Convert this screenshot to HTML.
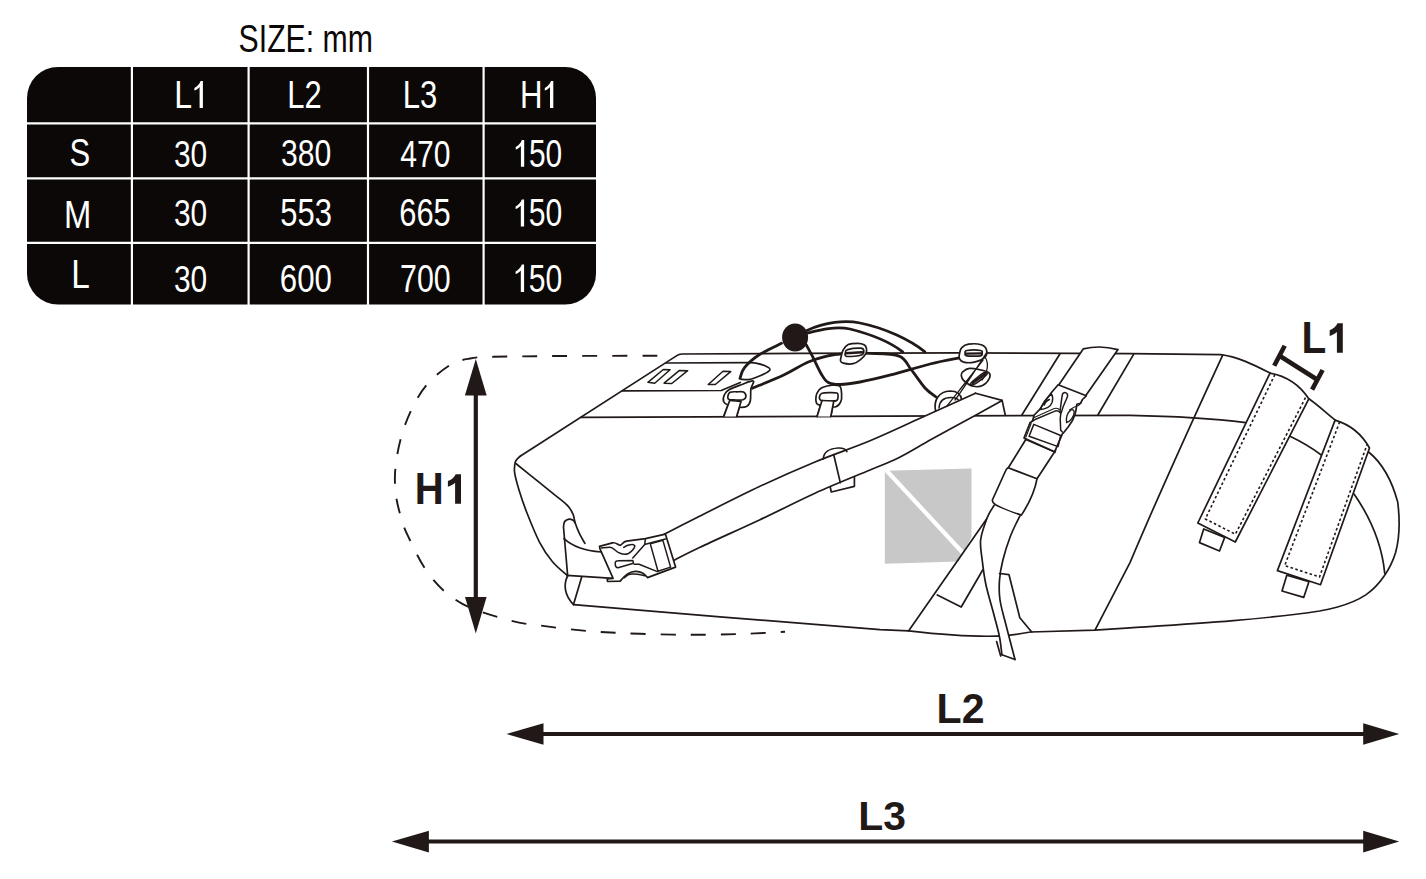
<!DOCTYPE html>
<html><head><meta charset="utf-8"><style>
html,body{margin:0;padding:0;background:#fff;width:1426px;height:879px;overflow:hidden}
svg{display:block}
text{font-family:"Liberation Sans",sans-serif}
</style></head><body>
<svg width="1426" height="879" viewBox="0 0 1426 879">
<rect x="27" y="67" width="569" height="237.5" rx="31" ry="31" fill="#0b0807"/>
<line x1="131.9" y1="66" x2="131.9" y2="305" stroke="#fff" stroke-width="2.2"/>
<line x1="248.6" y1="66" x2="248.6" y2="305" stroke="#fff" stroke-width="2.2"/>
<line x1="368.0" y1="66" x2="368.0" y2="305" stroke="#fff" stroke-width="2.2"/>
<line x1="483.6" y1="66" x2="483.6" y2="305" stroke="#fff" stroke-width="2.2"/>
<line x1="26" y1="123.3" x2="597" y2="123.3" stroke="#fff" stroke-width="2.2"/>
<line x1="26" y1="178.4" x2="597" y2="178.4" stroke="#fff" stroke-width="2.2"/>
<line x1="26" y1="242.8" x2="597" y2="242.8" stroke="#fff" stroke-width="2.2"/>
<text transform="matrix(0.8062 0 0 1.0189 238.59 51.75)" font-weight="normal" font-size="37.5" fill="#0b0807">SIZE: mm</text>
<text transform="matrix(0.8545 0 0 1.0524 174.24 108.0)" font-weight="normal" font-size="37.5" fill="#fff">L</text>
<text transform="matrix(0.8245 0 0 1.0133 287.33 107.9)" font-weight="normal" font-size="37.5" fill="#fff">L2</text>
<text transform="matrix(0.827 0 0 1.034 402.72 108.24)" font-weight="normal" font-size="37.5" fill="#fff">L3</text>
<text transform="matrix(0.8333 0 0 1.0524 520.0 108.0)" font-weight="normal" font-size="37.5" fill="#fff">H</text>
<text transform="matrix(0.8279 0 0 1.0151 69.55 166.45)" font-weight="normal" font-size="37.5" fill="#fff">S</text>
<text transform="matrix(0.7974 0 0 0.9962 173.9 166.65)" font-weight="normal" font-size="37.5" fill="#fff">30</text>
<text transform="matrix(0.8034 0 0 1.0038 281.09 166.45)" font-weight="normal" font-size="37.5" fill="#fff">380</text>
<text transform="matrix(0.8017 0 0 1.0 400.3 166.75)" font-weight="normal" font-size="37.5" fill="#fff">470</text>
<text transform="matrix(0.7974 0 0 1.0189 529.0 166.75)" font-weight="normal" font-size="37.5" fill="#fff">50</text>
<text transform="matrix(0.8752 0 0 1.0369 64.07 227.7)" font-weight="normal" font-size="37.5" fill="#fff">M</text>
<text transform="matrix(0.7974 0 0 1.0038 173.9 226.35)" font-weight="normal" font-size="37.5" fill="#fff">30</text>
<text transform="matrix(0.8252 0 0 1.0264 280.26 226.34)" font-weight="normal" font-size="37.5" fill="#fff">553</text>
<text transform="matrix(0.8237 0 0 1.0264 399.25 226.34)" font-weight="normal" font-size="37.5" fill="#fff">665</text>
<text transform="matrix(0.8026 0 0 1.0264 528.8 226.34)" font-weight="normal" font-size="37.5" fill="#fff">50</text>
<text transform="matrix(0.8909 0 0 1.068 71.13 287.5)" font-weight="normal" font-size="37.5" fill="#fff">L</text>
<text transform="matrix(0.7974 0 0 1.0038 173.9 291.65)" font-weight="normal" font-size="37.5" fill="#fff">30</text>
<text transform="matrix(0.8322 0 0 1.0453 279.84 291.84)" font-weight="normal" font-size="37.5" fill="#fff">600</text>
<text transform="matrix(0.8102 0 0 1.0453 400.08 291.84)" font-weight="normal" font-size="37.5" fill="#fff">700</text>
<text transform="matrix(0.8026 0 0 1.0453 528.8 291.84)" font-weight="normal" font-size="37.5" fill="#fff">50</text>
<text transform="matrix(0.944 0 0 1.0359 414.8 503.7)" font-weight="bold" font-size="42.5" fill="#201917">H</text>
<text transform="matrix(0.9667 0 0 0.9882 936.54 722.9)" font-weight="bold" font-size="42.5" fill="#201917">L2</text>
<text transform="matrix(0.9613 0 0 0.9653 858.26 829.92)" font-weight="bold" font-size="42.5" fill="#201917">L3</text>
<text transform="matrix(0.9545 0 0 1.0325 1301.38 352.8)" font-weight="bold" font-size="42.5" fill="#201917">L</text>
<path d="M202.9 80.9 L200.6 80.9 C199.6 83.9 197.1 86.4 194.4 88.0 L194.4 90.5 C196.6 89.7 198.6 88.4 199.6 86.9 L199.6 108 L202.9 108Z" fill="#fff"/>
<path d="M553.3 80.9 L551 80.9 C550 83.9 547.5 86.4 544.8 88.0 L544.8 90.5 C547 89.7 549 88.4 550 86.9 L550 108 L553.3 108Z" fill="#fff"/>
<path d="M524.1999999999999 140 L521.9 140 C520.9 143 518.4 145.5 515.6999999999999 147.1 L515.6999999999999 149.6 C517.9 148.8 519.9 147.5 520.9 146 L520.9 166.8 L524.1999999999999 166.8Z" fill="#fff"/>
<path d="M524.0999999999999 199.4 L521.8 199.4 C520.8 202.4 518.3 204.9 515.5999999999999 206.5 L515.5999999999999 209.0 C517.8 208.20000000000002 519.8 206.9 520.8 205.4 L520.8 226.6 L524.0999999999999 226.6Z" fill="#fff"/>
<path d="M524.0999999999999 264.4 L521.8 264.4 C520.8 267.4 518.3 269.9 515.5999999999999 271.5 L515.5999999999999 274.0 C517.8 273.2 519.8 271.9 520.8 270.4 L520.8 292.1 L524.0999999999999 292.1Z" fill="#fff"/>
<path d="M657.3 355.8 C641.1 355.8 587.2 355.8 560.0 356.0 C532.8 356.2 509.0 356.4 494.0 356.8 C479.0 357.2 477.3 357.1 470.0 358.5 C462.7 359.9 457.2 360.6 450.0 365.0 C442.8 369.4 433.4 377.2 427.0 384.6 C420.6 392.0 415.9 400.7 411.6 409.4 C407.3 418.1 404.0 427.3 401.3 436.7 C398.6 446.1 396.6 457.1 395.6 466.0 C394.6 474.9 394.8 482.3 395.4 490.0 C396.0 497.7 397.4 504.4 399.5 512.0 C401.6 519.6 402.6 524.9 407.8 535.6 C413.0 546.4 421.4 565.1 430.5 576.5 C439.6 587.9 449.0 596.4 462.4 603.8 C475.8 611.2 498.1 617.1 511.0 620.7 C523.9 624.3 530.2 624.1 540.0 625.5 C549.8 626.9 560.0 628.2 570.0 629.3 C580.0 630.4 588.3 631.1 600.0 631.9 C611.7 632.6 625.0 633.3 640.0 633.8 C655.0 634.3 673.3 634.8 690.0 634.8 C706.7 634.8 724.2 634.5 740.0 634.0 C755.8 633.5 777.5 632.2 785.0 631.8" fill="none" stroke="#201917" stroke-width="1.9" stroke-dasharray="15 15" stroke-dashoffset="0"/>
<line x1="475.8" y1="389" x2="475.8" y2="603.4" stroke="#201917" stroke-width="4.2"/>
<path d="M475.8 359 L486.7 395.4 L464.90000000000003 395.4Z" fill="#201917"/>
<path d="M475.8 633.4 L486.6 597.0 L465.0 597.0Z" fill="#201917"/>
<line x1="536.5" y1="734.0" x2="1369.2" y2="734.0" stroke="#201917" stroke-width="4.0"/>
<path d="M506.5 734.0 L543.5 723.2 L543.5 744.8Z" fill="#201917"/>
<path d="M1399.2 734.0 L1363.2 723.2 L1363.2 744.8Z" fill="#201917"/>
<line x1="421.9" y1="841.6" x2="1369.2" y2="841.6" stroke="#201917" stroke-width="4.0"/>
<path d="M391.9 841.6 L428.9 830.8000000000001 L428.9 852.4Z" fill="#201917"/>
<path d="M1399.2 841.6 L1363.2 830.8000000000001 L1363.2 852.4Z" fill="#201917"/>
<path d="M461.0 474.2 L455.70000000000005 474.2 C454.3 477.59999999999997 451.3 479.8 447.90000000000003 481.09999999999997 L447.90000000000003 486.8 C450.5 485.8 453.3 484.4 455.1 482.8 L455.1 503.7 L461.0 503.7Z" fill="#201917"/>
<path d="M1342.8000000000002 323.3 L1337.5 323.3 C1336.1000000000001 326.7 1333.1000000000001 328.90000000000003 1329.7 330.2 L1329.7 335.90000000000003 C1332.3000000000002 334.90000000000003 1335.1000000000001 333.5 1336.9 331.90000000000003 L1336.9 352.8 L1342.8000000000002 352.8Z" fill="#201917"/>
<g stroke="#201917" stroke-width="4.6" fill="none"><line x1="1279.5" y1="355.8" x2="1317.4" y2="379.8"/><line x1="1284.7" y1="345.8" x2="1274.2" y2="365.8"/><line x1="1322.6" y1="370" x2="1312.1" y2="389.6"/></g>
<g stroke="#201917" stroke-width="1.7" stroke-linejoin="round" stroke-linecap="round">
<path d="M884.8 470.8 L971.5 468.4 L971.5 537 L958.5 561.5 L884.8 563.8Z" fill="#c8c8c8" stroke="none"/>
<line x1="886" y1="470" x2="963" y2="553" stroke="#fff" stroke-width="4.2" stroke-linecap="butt"/>
<path d="M520.5 456 L677.2 355.4 Q678.5 354.3 682 354 L800 353.4 L960 352.8 L1130 353.6 L1220.5 354.6 C1238 356.5 1256 366 1270 373.1" fill="none"/>
<path d="M520.5 456 Q514.8 460 514.7 465  C514.7 466.4 514.0 469.0 514.7 473.2 C515.4 477.4 517.0 483.5 519.0 490.0 C521.0 496.5 523.2 503.3 526.6 512.0 C530.0 520.7 535.3 534.0 539.6 542.3 C543.9 550.6 547.8 556.1 552.5 561.7 C557.2 567.3 565.1 573.4 567.6 575.8" fill="none"/>
<path d="M515.8 463.5 C519.4 466.4 530.9 475.6 537.4 480.8 C543.9 486.0 549.7 490.7 554.7 494.8 C559.7 498.9 564.6 502.4 567.6 505.6 C570.6 508.8 571.7 511.3 573.0 514.2 C574.3 517.1 574.1 519.6 575.2 522.9 C576.3 526.1 577.9 530.3 579.5 533.7 C581.1 537.1 584.0 541.8 584.9 543.4" fill="none"/>
<path d="M1308.8 398.8 C1318 405 1326 413 1335.1 420.1" fill="none"/>
<path d="M1368.6 452 C1376 458 1389 470 1397.7 502 C1400 520 1399 540 1395.6 552.5 C1391 568 1380 585 1366.2 594.6 C1355 602 1345 605 1336.7 607.2 C1330 609 1325 610 1319.5 611 C1260 620 1190 624 1130 627.9 L1095 630.1 L1030.5 632 C1020 634 1008 636 997 636.1 C975 636.8 935 633.8 908.7 630.8 L880 629.7 L720 616.8 L573.5 604.6" fill="none"/>
<path d="M1354.2 494.2 C1372 520 1382 545 1384.7 573.2" fill="none"/>
<path d="M665.8 363 L749 362.6" fill="none"/>
<path d="M622.2 390.8 L721.2 390.5 L740.3 382.5" fill="none"/>
<path d="M581 417.3 L1130 415.3 C1170 416 1210 418 1245.8 422.6" fill="none"/>
<path d="M1290 436.3 C1302 442 1312 448 1321.6 455.3" fill="none"/>
<path d="M1060 353.8 L1022 414.8 M1133.9 353.9 L1098 414.8" fill="none"/>
<path d="M1222.6 355.3 C1195 415 1165 480 1130 562.6 L1095 630.1" fill="none"/>
<path d="M647.9 382.3 L663.3 369.5 L670.1 369.8 L654.7 383.2Z" fill="none" stroke-width="1.5"/>
<path d="M664.1 383.2 L679.5 370.4 L687.7 370.7 L671.8 383.5Z" fill="none" stroke-width="1.5"/>
<path d="M708.2 384.5 L723.0 371.2 L730.7 371.6 L715.3 384.5Z" fill="none" stroke-width="1.5"/>
<path d="M748.8 362.6 C750.2 362.7 754.3 362.8 757.0 363.3 C759.7 363.8 762.8 364.8 765.0 365.8 C767.2 366.8 770.0 368.1 770.0 369.4 C770.0 370.7 767.2 372.2 765.0 373.5 C762.8 374.8 759.7 376.0 757.0 377.0 C754.3 378.0 751.4 379.2 748.8 379.6 C746.2 380.0 742.5 379.4 741.3 379.3" fill="none"/>
<path d="M729.7 400.5 L723.8 416.4 L736.6 416.4 L741.0 401.5Z" fill="#fff"/><path d="M723.6 401.5 C723.0 399.8 723.6 396.4 724.5 394.5 C725.4 392.6 726.2 391.4 729.0 389.8 C731.8 388.2 737.0 386.3 741.0 384.8 C745.0 383.3 751.6 380.3 753.2 381.0 C754.9 381.7 751.4 385.6 750.9 388.9 C750.4 392.2 751.0 398.1 750.3 401.0 C749.6 403.9 748.4 405.5 746.5 406.5 C744.6 407.5 742.1 407.4 739.0 407.2 C735.9 406.9 730.6 405.9 728.0 405.0 C725.4 404.1 724.2 403.2 723.6 401.5Z" fill="#fff"/><path d="M727.8 396.5 C728.0 395.3 728.5 393.1 730.0 392.3 C731.5 391.5 734.8 391.8 737.0 391.8 C739.2 391.8 742.0 391.3 743.5 392.1 C745.0 392.9 746.0 395.2 745.9 396.5 C745.8 397.8 744.6 399.2 743.0 399.8 C741.4 400.4 738.3 400.1 736.0 400.0 C733.7 399.9 730.4 400.1 729.0 399.5 C727.6 398.9 727.6 397.7 727.8 396.5Z" fill="#fff"/><path d="M729.7 400.5 L723.8 416.4 L736.6 416.4 L741.0 401.5Z" fill="#fff" stroke="none"/><path d="M729.7 400.5 L723.8 416.4 M741 401.5 L736.6 416.4" fill="none"/><path d="M729.7 400.5 L741 401.5" fill="none" stroke-width="1.4"/>
<path d="M822.0 400.5 L817.1 416.4 L830.8 416.4 L833.8 401.0Z" fill="#fff"/><path d="M817.1 403.9 C815.5 402.2 815.8 398.3 816.1 396.0 C816.4 393.7 817.9 391.5 819.0 390.0 C820.1 388.5 821.0 388.0 823.0 387.2 C825.0 386.4 828.0 385.5 830.8 385.3 C833.6 385.1 837.9 384.7 839.7 386.2 C841.5 387.7 841.4 391.5 841.6 394.1 C841.8 396.7 841.7 399.8 840.7 401.9 C839.7 404.0 838.2 406.1 835.8 406.8 C833.3 407.5 829.1 406.5 826.0 406.0 C822.9 405.5 818.8 405.6 817.1 403.9Z" fill="#fff"/><path d="M819.5 396.5 C819.7 395.3 820.4 393.8 822.0 393.2 C823.6 392.6 826.5 392.6 829.0 392.6 C831.5 392.6 835.5 392.4 837.0 393.1 C838.5 393.8 838.1 395.8 838.0 397.0 C837.9 398.2 838.2 399.9 836.5 400.6 C834.8 401.3 830.6 401.0 828.0 401.0 C825.4 401.0 822.4 401.2 821.0 400.5 C819.6 399.8 819.3 397.7 819.5 396.5Z" fill="#fff"/><path d="M822.0 400.5 L817.1 416.4 L830.8 416.4 L833.8 401.0Z" fill="#fff" stroke="none"/><path d="M822 400.5 L817.1 416.4 M833.8 401 L830.8 416.4" fill="none"/><path d="M822 400.5 L833.8 401" fill="none" stroke-width="1.4"/>
<path d="M935.5 410.5 C933.5 400 939 391.5 950 391 C957 391 961 394 961.8 400" fill="none"/>
<path d="M939 408 C939.5 401 944 397.5 951 397.5 C955 397.5 958 398.5 959 401" fill="none" stroke-width="1.5"/>
<path d="M830 486 L831.3 492 L854.4 486.3 L854.4 476" fill="#fff"/>
<path d="M664.3 534.3 L700.0 516.0 L760.0 486.3 L815.0 462.0 L870.0 440.8 L921.2 417.8 L975.5 393.2 L1002.1 400.4 L1002.1 400.4 L976.5 414.7 L931.5 439.3 L898.7 457.7 L870.0 470.0 L815.0 493.2 L760.0 519.7 L700.0 547.3 L674.0 560.3Z" fill="#fff" stroke="none"/>
<path d="M664.3 534.3 C670.2 531.2 684.0 524.0 700.0 516.0 C716.0 508.0 740.8 495.3 760.0 486.3 C779.2 477.3 796.7 469.6 815.0 462.0 C833.3 454.4 852.3 448.2 870.0 440.8 C887.7 433.4 903.6 425.7 921.2 417.8 C938.8 409.9 966.5 397.3 975.5 393.2" fill="none"/>
<path d="M674.0 560.3 C678.3 558.1 685.7 554.1 700.0 547.3 C714.3 540.5 740.8 528.7 760.0 519.7 C779.2 510.7 796.7 501.5 815.0 493.2 C833.3 484.9 856.0 475.9 870.0 470.0 C884.0 464.1 888.5 462.8 898.7 457.7 C909.0 452.6 918.5 446.5 931.5 439.3 C944.5 432.1 964.7 421.2 976.5 414.7 C988.3 408.2 997.8 402.8 1002.1 400.4" fill="none"/>
<path d="M975.5 393.2 L1002.1 400.4 L1005.2 414.7" fill="none"/>
<path d="M823.4 458.8 C823.5 452 830 448.5 838 448 C843 447.8 846 449.5 846.9 451.5" fill="none"/>
<path d="M833.8 455 L840.3 482.6" fill="none"/>
<path d="M807 330.5 C825 322 845 320 860 323 C885 328 910 340 924.9 351.8" fill="none" stroke-width="2.8"/>
<path d="M807.9 333 C820 330 835 326 850 329 C870 334 890 342 902.7 351.8" fill="none" stroke-width="2.8"/>
<path d="M781.5 343.3 C777.8 345.2 765.4 350.8 759.2 354.8 C753.0 358.9 747.7 363.7 744.5 367.6 C741.3 371.5 740.8 376.6 740.0 378.4" fill="none" stroke-width="2.8"/>
<path d="M806.3 345.0 C807.4 347.1 810.8 353.1 813.2 357.8 C815.7 362.6 818.5 369.4 821.0 373.5 C823.5 377.6 824.7 380.5 827.9 382.3 C831.1 384.1 834.6 384.6 840.0 384.5 C845.4 384.4 851.5 383.6 860.0 382.0 C868.5 380.4 879.0 377.9 890.7 374.9 C902.4 371.9 918.5 366.9 930.0 364.0 C941.5 361.1 955.0 358.8 960.0 357.8" fill="none" stroke-width="2.8"/>
<path d="M752.4 388.2 C757.6 386.0 774.4 379.4 783.7 375.0 C793.0 370.6 800.9 365.2 808.3 362.0 C815.7 358.8 822.2 357.2 827.9 355.8 C833.6 354.4 835.6 354.2 842.6 353.8 C849.6 353.4 860.6 352.9 870.0 353.3 C879.4 353.7 892.3 353.4 899.2 356.1 C906.1 358.8 906.9 364.4 911.2 369.7 C915.5 375.0 920.9 383.4 925.0 388.0 C929.1 392.6 934.2 395.5 936.0 397.0" fill="none" stroke-width="2.8"/>
<ellipse cx="795.1" cy="337.5" rx="13" ry="14" fill="#201917" stroke="none"/>
<path d="M843.2 350.0 C844.3 348.2 845.8 345.7 848.2 344.6 C850.6 343.5 855.1 343.4 857.7 343.4 C860.4 343.4 862.7 344.0 864.1 344.8 C865.5 345.6 866.1 346.7 866.4 348.2 C866.7 349.7 866.9 351.8 865.9 353.7 C864.9 355.6 862.6 357.9 860.5 359.6 C858.4 361.3 856.1 363.1 853.2 363.7 C850.3 364.3 845.3 363.7 843.2 363.2 C841.1 362.7 840.8 362.2 840.5 360.9 C840.2 359.6 840.9 357.3 841.4 355.5 C841.9 353.7 842.1 351.8 843.2 350.0Z" fill="#fff"/>
<path d="M845.5 352.3 C845.6 351.2 845.2 350.3 847.7 349.6 C850.2 348.9 857.8 348.1 860.5 348.2 C863.2 348.3 863.6 349.4 863.7 350.5 C863.9 351.6 864.2 354.0 861.4 355.0 C858.6 356.0 849.4 356.8 846.8 356.4 C844.1 355.9 845.4 353.4 845.5 352.3Z" fill="#fff"/>
<path d="M846 353.2 L862 352.2" fill="none" stroke-width="2.6"/>
<path d="M961.8 347.6 C963.2 346.2 965.3 344.7 968.5 344.2 C971.7 343.7 978.1 343.8 981.1 344.7 C984.1 345.6 985.8 347.4 986.4 349.5 C987.0 351.6 987.0 355.1 985.0 357.2 C983.0 359.3 977.8 361.3 974.3 362.1 C970.8 362.9 966.2 362.8 963.7 362.1 C961.2 361.5 959.9 359.8 959.3 358.2 C958.6 356.6 959.4 354.2 959.8 352.4 C960.2 350.6 960.3 349.0 961.8 347.6Z" fill="#fff"/>
<path d="M965.1 353.0 C965.1 352.1 964.4 350.9 967.0 350.5 C969.6 350.1 978.0 350.1 980.5 350.5 C983.0 350.9 982.1 352.1 982.1 353.0 C982.1 353.9 983.0 355.3 980.5 355.8 C978.0 356.3 969.6 356.3 967.0 355.8 C964.4 355.3 965.1 353.9 965.1 353.0Z" fill="#fff"/>
<path d="M966.5 353.6 L981 353.4" fill="none" stroke-width="2.4"/>
<path d="M962.7 371.8 C964.1 370.6 966.6 368.7 969.5 368.4 C972.4 368.1 976.9 369.1 980.1 369.8 C983.3 370.5 987.3 371.2 988.8 372.7 C990.3 374.1 990.3 376.4 989.3 378.5 C988.3 380.6 985.6 384.0 983.0 385.3 C980.4 386.6 976.6 387.1 973.4 386.3 C970.2 385.5 965.7 382.3 963.7 380.5 C961.7 378.7 961.5 377.1 961.3 375.6 C961.1 374.2 961.3 373.0 962.7 371.8Z" fill="#fff"/>
<path d="M971.0 383.0 C972.5 381.1 980.9 374.4 983.5 373.0 C986.1 371.6 988.3 372.6 986.8 374.5 C985.3 376.4 977.1 382.8 974.5 384.2 C971.9 385.6 969.5 384.9 971.0 383.0Z" fill="#fff" stroke-width="1.5"/>
<path d="M972.8 383 L985 374" fill="none" stroke-width="2.4"/>
<path d="M985 357 C989 363 988 372 982 380 M983 360 C974 372 958 392 947 406 M987 352 C978 366 964 388 955 400" fill="none" stroke-width="1.3"/>
<path d="M1058.7 385 L1083.2 348.9 Q1100 344.8 1118 349.6 L1086 395.3" fill="#fff"/>
<path d="M1058.1 384.7 L1086.3 395.8 L1082.5 399.5 L1080.5 403.3 L1076.9 404.2 L1076.2 409.0 L1075.0 414.5 L1072.5 420.5 L1068.5 426.5 L1064.2 432.0 L1062.4 433.8 L1054.7 451.7 L1024.0 438.0 L1030.0 422.7 L1032.5 421.0 L1034.2 415.0 L1039.3 409.9 L1045.0 401.5 L1051.3 392.8Z" fill="#fff"/>
<path d="M1029.1 436.3 L1033.8 424.4 L1060.7 435.5 L1058.1 446.6Z" fill="none" stroke-width="1.5"/>
<path d="M1025.8 437.2 L1031.2 423.2 M1025.2 439.6 L1055.2 452.6" fill="none" stroke-width="1.1"/>
<path d="M1059.8 412.4 C1060.8 406 1061.5 399 1062.4 394.5 C1063 392.5 1065 392.3 1066 392.8 C1067.6 393.6 1067.8 395 1067.5 396.2 C1066 401 1063.5 405 1062.4 409 C1061 412.5 1060.2 416 1060.2 418.4 L1060.7 430.3 L1062.4 432" fill="none" stroke-width="1.5"/>
<path d="M1032.5 421 L1034.5 419.8 L1053.8 411.6 C1056 410.5 1058 410 1059.8 412.4" fill="none" stroke-width="1.5"/>
<path d="M1034.2 417.5 L1052.5 409.2 C1055 408 1057 407.5 1059.3 409.5" fill="none" stroke-width="1.1"/>
<path d="M1051.6 394 C1046 398 1041.5 404.5 1040.8 409.6 C1045.5 409 1050.5 406.5 1052.1 402.5 C1053 399.5 1052.6 396 1051.6 394Z M1049.5 399.5 C1047 400.5 1045 402.5 1044.3 405" fill="none" stroke-width="1.4"/>
<path d="M1071 409.8 C1067 412.5 1065.8 418.5 1066.6 422.5 C1070.5 421.5 1074 416.5 1074.2 412.5 C1074.3 410.5 1073 409.2 1071 409.8Z" fill="none" stroke-width="1.4"/>
<path d="M1081.2 402.8 L1078.5 405.5 C1074 406.5 1071 409 1069.5 410" fill="none" stroke-width="1.1"/>
<path d="M1025.8 439.5 L1008.5 467.5 M1055.5 450.5 L1037 478.8" fill="none"/>
<path d="M1008.1 467.7 L1037 478.8 C1035 490 1028 505 1021.4 515.1 C1012 512.5 1003 509 995.5 504.7 Q991.5 502 992.6 499.5 L1005.5 471 Q1006.5 468.5 1008.1 467.7Z" fill="#fff"/>
<path d="M908.7 630.8 L988.9 515.8 M937.3 595 L961.2 607 L982.7 570" fill="none"/>
<path d="M994.0 505.5 L987.4 517.3 L980.7 539.5 L982.2 560.0 L986.0 585.0 L994.0 615.0 L999.5 636.8 L1001.9 654.7 L1015.0 659.5 L1006.0 625.0 L1000.0 600.0 L999.5 580.0 L1002.9 560.0 L1010.3 536.5 L1019.9 515.8Z" fill="#fff" stroke="none"/>
<path d="M994.0 505.5 C992.9 507.5 989.6 511.6 987.4 517.3 C985.2 523.0 981.6 532.4 980.7 539.5 C979.8 546.6 981.3 552.4 982.2 560.0 C983.1 567.6 984.0 575.8 986.0 585.0 C988.0 594.2 991.8 606.4 994.0 615.0 C996.2 623.6 998.2 630.2 999.5 636.8 C1000.8 643.4 1001.5 651.7 1001.9 654.7" fill="none"/>
<path d="M1019.9 515.8 C1018.3 519.2 1013.1 529.1 1010.3 536.5 C1007.5 543.9 1004.7 552.8 1002.9 560.0 C1001.1 567.2 1000.0 573.3 999.5 580.0 C999.0 586.7 998.9 592.5 1000.0 600.0 C1001.1 607.5 1003.5 615.1 1006.0 625.0 C1008.5 634.9 1013.5 653.8 1015.0 659.5" fill="none"/>
<path d="M1001.9 654.7 L1015 659.5" fill="none"/>
<path d="M996.6 641.6 L1000.7 656 M999.5 573.5 L1009 574.7 L1019.8 617.7 L1031.7 632" fill="none"/>
<path d="M567.6 575 L563.5 527 Q563.3 520 569 519.2 Q573 519 575.2 522.9" fill="none"/>
<path d="M564 538.6 C572 546 582 550.5 601.2 552 M567 575.4 L613.1 578.3" fill="none"/>
<path d="M567.6 576 C563.5 584 564 595 573.5 604.6 L581.7 576.9" fill="none"/>
<path d="M599.5 546.4 L612.4 542.9 C616 542 618 545 620.2 545.3 C622 545 623 541.5 626.5 541.1 L645.4 538.7 L665.4 534.1 L675.6 567.1 L647.5 577.6 C645 574 642 571.5 636 571.3 C630 571 625 575 620.2 581.1 L607.5 581.5 L607.2 579 L613.1 578.3 L601.2 551.6 L600 549Z" fill="#fff"/>
<path d="M601.2 548.1 C606 547.5 609 547 611 547.4 C615 549 617 552.5 619.5 553 C623 554.5 626 554.5 627.9 553.8 C631 552 634 549 634.9 546 C634 544.5 632.5 544.3 631.4 544.6 C628 545 625.5 546 623.7 547.4" fill="none" stroke-width="1.5"/>
<path d="M615.2 563.6 C615 561.5 616.5 560.8 618 560.8 L632.8 560.4 L633.5 563.2 L618 567.8 C616 567.8 615.2 566 615.2 563.6Z" fill="none" stroke-width="1.5"/>
<path d="M645.4 538.7 L644.7 544.6 L632.8 558 M634.2 564.3 L639.1 564.3 L657.3 571.6 M645.4 544.3 L665.4 539" fill="none" stroke-width="1.5"/>
<path d="M650.3 543.9 L662.9 540.4 L670.6 567.1 L658 571.3Z" fill="none" stroke-width="1.5"/>
<path d="M624.4 577.6 C627 575 630 574 632.1 574.1 C636 574 639 574.3 640.5 574.8 L644.7 575.8" fill="none" stroke-width="1.5"/>
<path d="M1203.7 529.0 L1199.5 542.6 L1219.5 551.0 L1224.7 537.4Z" fill="#fff"/><path d="M1197.8 523 L1270 373.1 C1286.6 376.1 1299.5 384.7 1308.8 398.8 L1235.3 542Z" fill="#fff"/><path d="M1274.9 374.5 L1205.3 519.0 L1235.4 534.2 L1306.6 395.5" fill="none" stroke-width="1.6" stroke-dasharray="2.6 2.4" stroke-linecap="butt"/>
<path d="M1286.8 575.3 L1282.0 591.0 L1303.7 597.4 L1309.0 581.6Z" fill="#fff"/><path d="M1277.4 570.6 L1335.1 420.1 C1350.3 424.7 1361.8 434.0 1369.5 448 L1320.5 584.7Z" fill="#fff"/><path d="M1339.7 421.9 L1284.7 565.6 L1319.5 577.0 L1367.2 444.2" fill="none" stroke-width="1.6" stroke-dasharray="2.6 2.4" stroke-linecap="butt"/>
</g>
</svg>
</body></html>
